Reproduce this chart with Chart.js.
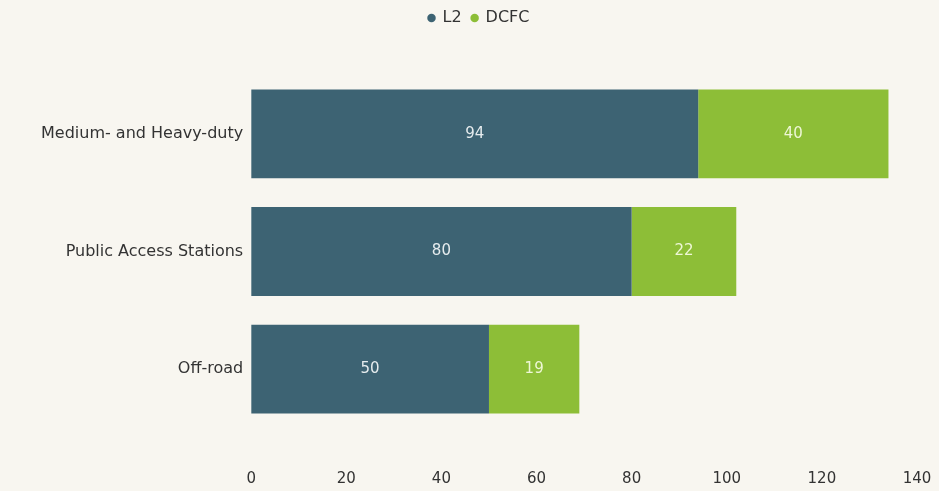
<!DOCTYPE html>
<html>
<head>
<meta charset="utf-8">
<script src="https://cdn.jsdelivr.net/npm/chart.js@4.4.1/dist/chart.umd.min.js"></script>
<style>
  html, body { margin: 0; padding: 0; background: #f8f6f0; }
  #wrap { width: 939px; height: 491px; }
</style>
</head>
<body>
<div id="wrap"><canvas id="chargerChart"></canvas></div>
<script>
const categories = ['Medium- and Heavy-duty', 'Public Access Stations', 'Off-road'];
const l2Counts = [94, 80, 50];
const dcfcCounts = [40, 22, 19];
const xTicks = [0, 20, 40, 60, 80, 100, 120, 140];

// writes each segment's value in the middle of its bar
const barValues = {
    id: 'barValues',
    afterDatasetsDraw(chart) {
        const ctx = chart.ctx;
        ctx.save();
        ctx.font = '15px "DejaVu Sans", Verdana, sans-serif';
        ctx.textAlign = 'center';
        ctx.textBaseline = 'middle';
        chart.data.datasets.forEach((ds, i) => {
            ctx.fillStyle = i === 0 ? '#e6ecee' : '#eef7d6';
            chart.getDatasetMeta(i).data.forEach((bar, j) => {
                const mid = (bar.x + bar.base) / 2;
                ctx.fillText(ds.data[j], mid, bar.y);
            });
        });
        ctx.restore();
    }
};

// leaves extra room under the legend
const legendGap = {
    id: 'legendGap',
    beforeInit(chart) {
        const fit = chart.legend.fit;
        chart.legend.fit = function () {
            fit.call(this);
            this.height += 39;
        };
    }
};

const ctx = document.getElementById('chargerChart').getContext('2d');
Chart.defaults.font.family = '"DejaVu Sans", Verdana, sans-serif';
Chart.defaults.font.size = 15;
Chart.defaults.color = '#333333';

const chargerChart = new Chart(ctx, {
    type: 'bar',
    data: {
        labels: categories,
        datasets: [{
            label: 'L2',
            data: l2Counts,
            backgroundColor: '#3d6373',
            borderWidth: 0
        }, {
            label: 'DCFC',
            data: dcfcCounts,
            backgroundColor: '#8dbe37',
            borderWidth: 0
        }]
    },
    options: {
        indexAxis: 'y',
        responsive: true,
        maintainAspectRatio: false,
        animation: false,
        layout: {
            padding: { left: 41, right: 22, top: 0, bottom: 0 }
        },
        datasets: {
            bar: { categoryPercentage: 0.755, barPercentage: 1 }
        },
        scales: {
            x: {
                stacked: true,
                min: 0,
                max: 140,
                afterBuildTicks: axis => { axis.ticks = xTicks.map(v => ({ value: v })); },
                afterFit: axis => {
                    axis.height = 63;
                    axis.paddingRight = 0;
                },
                grid: { display: false },
                border: { display: false },
                ticks: { padding: 34, font: { size: 15 } }
            },
            y: {
                stacked: true,
                grid: { display: false },
                border: { display: false },
                ticks: { padding: 0, font: { size: 16 } }
            }
        },
        plugins: {
            legend: {
                position: 'top',
                labels: {
                    usePointStyle: true,
                    pointStyle: 'circle',
                    boxWidth: 6,
                    boxHeight: 6,
                    padding: 10,
                    font: { size: 16 }
                }
            },
            tooltip: { enabled: false }
        }
    },
    plugins: [barValues, legendGap]
});
</script>
</body>
</html>
